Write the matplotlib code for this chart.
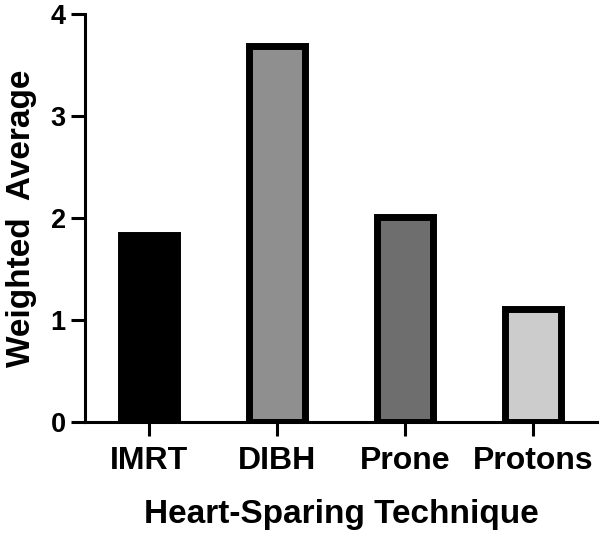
import matplotlib as mpl
mpl.use('Agg')
import matplotlib.pyplot as plt

techniques = ["IMRT", "DIBH", "Prone", "Protons"]
weighted_avg = [1.83, 3.69, 2.01, 1.11]
bar_colors = ["#000000", "#8f8f8f", "#6e6e6e", "#cccccc"]

plt.rcParams['font.family'] = ['Liberation Sans', 'DejaVu Sans']
plt.rcParams['font.weight'] = 'bold'

fig = plt.figure(figsize=(6, 5.43), dpi=100)
ax = fig.add_axes([0.142, 0.2228, 0.853, 0.7514])

x = range(len(techniques))
ax.bar(x, weighted_avg, width=0.44, color=bar_colors, edgecolor="black", linewidth=5)

ax.set_xlim(-0.5, 3.5)
ax.set_ylim(0, 4)
ax.set_yticks([0, 1, 2, 3, 4])
ax.set_xticks(list(x))
ax.set_xticklabels(techniques)

for side in ["top", "right"]:
    ax.spines[side].set_visible(False)
for side in ["left", "bottom"]:
    ax.spines[side].set_linewidth(2.2)

ax.tick_params(axis="both", length=10, width=2.2, labelsize=19.5, pad=4)
ax.tick_params(axis="x", labelsize=23, pad=7)

ax.set_xlabel("Heart-Sparing Technique", fontsize=24, fontweight="bold", labelpad=17)
ax.set_ylabel("Weighted  Average", fontsize=24, fontweight="bold", labelpad=10)

fig.savefig("out.png", dpi=100)
